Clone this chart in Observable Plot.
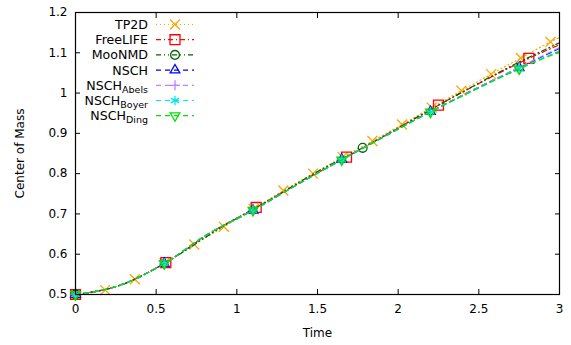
<!DOCTYPE html>
<html><head><meta charset="utf-8">
<script src="https://cdn.jsdelivr.net/npm/d3@7"></script>
<script src="https://cdn.jsdelivr.net/npm/@observablehq/plot@0.6"></script>
<style>body{margin:0;background:#fff} #chart svg{display:block}</style>
</head><body><div id="chart"></div>
<script>
// ---- data ----
const xTicks = [0, 0.5, 1, 1.5, 2, 2.5, 3];
const yTicks = [0.5, 0.6, 0.7, 0.8, 0.9, 1.0, 1.1, 1.2];

const tTP2D = [0, 0.184, 0.368, 0.552, 0.736, 0.92, 1.104, 1.288, 1.472, 1.656, 1.84, 2.024, 2.208, 2.392, 2.576, 2.76, 2.944, 3.0];
const yTP2D = [0.5, 0.511, 0.538, 0.578, 0.624, 0.668, 0.712, 0.758, 0.800, 0.841, 0.881, 0.922, 0.964, 1.006, 1.047, 1.087, 1.127, 1.138];
const mTP2D = [0,1,2,3,4,5,6,7,8,9,10,11,12,13,14,15,16];

const tFree = [0, 0.28, 0.56, 0.84, 1.12, 1.4, 1.68, 1.96, 2.25, 2.53, 2.81, 3.0];
const yFree = [0.5, 0.524, 0.579, 0.654, 0.716, 0.780, 0.841, 0.904, 0.970, 1.030, 1.086, 1.120];
const mFree = [0, 2, 4, 6, 8, 10];

const tMoo = [0, 0.3, 0.6, 0.9, 1.2, 1.5, 1.78, 2.1, 2.4, 2.7, 3.0];
const yMoo = [0.5, 0.526, 0.589, 0.666, 0.734, 0.805, 0.864, 0.936, 1.003, 1.067, 1.125];
const mMoo = [0, 6];

const tNSCH = [0, 0.275, 0.55, 0.825, 1.1, 1.375, 1.65, 1.925, 2.2, 2.475, 2.75, 3.0];
const yNSCH  = [0.5, 0.523, 0.577, 0.651, 0.709, 0.773, 0.835, 0.895, 0.954, 1.010, 1.063, 1.111];
const yAbels = [0.5, 0.523, 0.577, 0.651, 0.709, 0.773, 0.835, 0.895, 0.954, 1.010, 1.064, 1.113];
const yBoyer = [0.5, 0.523, 0.577, 0.651, 0.709, 0.773, 0.834, 0.894, 0.953, 1.008, 1.061, 1.105];
const yDing  = [0.5, 0.523, 0.577, 0.651, 0.709, 0.773, 0.834, 0.894, 0.953, 1.008, 1.060, 1.102];
const mNSCH = [0, 2, 4, 6, 8, 10];

const names = ["TP2D", "FreeLIFE", "MooNMD", "NSCH", "NSCH", "NSCH", "NSCH"];
const subs  = ["", "", "", "", "Abels", "Boyer", "Ding"];
const colors = ["#ffa500", "#ff0000", "#006400", "#0000ff", "#c080ff", "#00e8e8", "#00e000"];
const dashes = ["1,3", "5,3,1,3", "5,3,1,3,1,3", "5,4", "5,4", "5,4", "5,4"];
const symbols = ["times", "square", "circle", "triangle", "plus", "asterisk", "triangle"];
const rotations = [0, 0, 0, 0, 0, 0, 180];

const seriesT = [tTP2D, tFree, tMoo, tNSCH, tNSCH, tNSCH, tNSCH];
const seriesY = [yTP2D, yFree, yMoo, yNSCH, yAbels, yBoyer, yDing];
const seriesM = [mTP2D, mFree, mMoo, mNSCH, mNSCH, mNSCH, mNSCH];

const symR = {times: 4.6, square: 5.6, circle: 4.4, triangle: 3.6, plus: 3.3, asterisk: 4.6};

// ---- build tables ----
const fmt = d => String(+d.toFixed(1));
const marks = [];
names.forEach((n, s) => {
  const rows = seriesT[s].map((t, i) => ({t, y: seriesY[s][i]}));
  const pts = seriesM[s].map(i => rows[i]);
  marks.push(Plot.line(rows, {x: "t", y: "y", stroke: colors[s], strokeWidth: 1.2,
    strokeDasharray: dashes[s], curve: "monotone-x"}));
  marks.push(Plot.dot(pts, {x: "t", y: "y", symbol: symbols[s], stroke: colors[s],
    fill: "none", strokeWidth: 1.3, r: symR[symbols[s]], rotate: rotations[s]}));
});

const plot = Plot.plot({
  width: 571, height: 345,
  marginTop: 12, marginRight: 12, marginBottom: 51, marginLeft: 75,
  style: {fontFamily: "DejaVu Sans, sans-serif", fontSize: "12px", color: "#000", background: "#fff"},
  x: {domain: [0, 3]},
  y: {domain: [0.5, 1.2]},
  marks: [
    Plot.axisX(xTicks, {anchor: "bottom", tickSize: 0, tickPadding: 10, tickFormat: fmt, fontSize: 12,
      label: "Time", labelAnchor: "center", labelArrow: "none", labelOffset: 42}),
    Plot.axisX(xTicks, {anchor: "bottom", tickSize: -5, text: null, label: null}),
    Plot.axisX(xTicks, {anchor: "top", tickSize: -5, text: null, label: null}),
    Plot.axisY(yTicks, {anchor: "left", tickSize: 0, tickPadding: 8, tickFormat: fmt, fontSize: 12,
      label: "Center of Mass", labelAnchor: "center", labelArrow: "none", labelOffset: 60}),
    Plot.axisY(yTicks, {anchor: "left", tickSize: -5, text: null, label: null}),
    Plot.axisY(yTicks, {anchor: "right", tickSize: -5, text: null, label: null}),
    ...marks,
    Plot.frame({stroke: "#000", strokeWidth: 1.2})
  ]
});
document.getElementById("chart").appendChild(plot);

// ---- legend (gnuplot style, inside top-left) ----
const svg = d3.select(plot);
const lg = svg.append("g").attr("font-family", "DejaVu Sans, sans-serif").attr("font-size", 12.6);
const symMap = {times: d3.symbolTimes, square: d3.symbolSquare, circle: d3.symbolCircle,
  triangle: d3.symbolTriangle, plus: d3.symbolPlus, asterisk: d3.symbolAsterisk};
names.forEach((n, s) => {
  const yy = 24.5 + s * 15.2;
  const tx = lg.append("text").attr("x", 148).attr("y", yy).attr("dy", "0.35em")
    .attr("text-anchor", "end");
  tx.append("tspan").text(n);
  if (subs[s]) tx.append("tspan").attr("font-size", 9.5).attr("dy", "3").text(subs[s]);
  lg.append("line").attr("x1", 156).attr("x2", 194).attr("y1", yy).attr("y2", yy)
    .attr("stroke", colors[s]).attr("stroke-width", 1.2).attr("stroke-dasharray", dashes[s]);
  const r = symR[symbols[s]];
  lg.append("path").attr("d", d3.symbol(symMap[symbols[s]], Math.PI * r * r)())
    .attr("transform", `translate(175,${yy}) rotate(${rotations[s]})`)
    .attr("fill", "none").attr("stroke", colors[s]).attr("stroke-width", 1.3);
});
</script>
</body></html>
